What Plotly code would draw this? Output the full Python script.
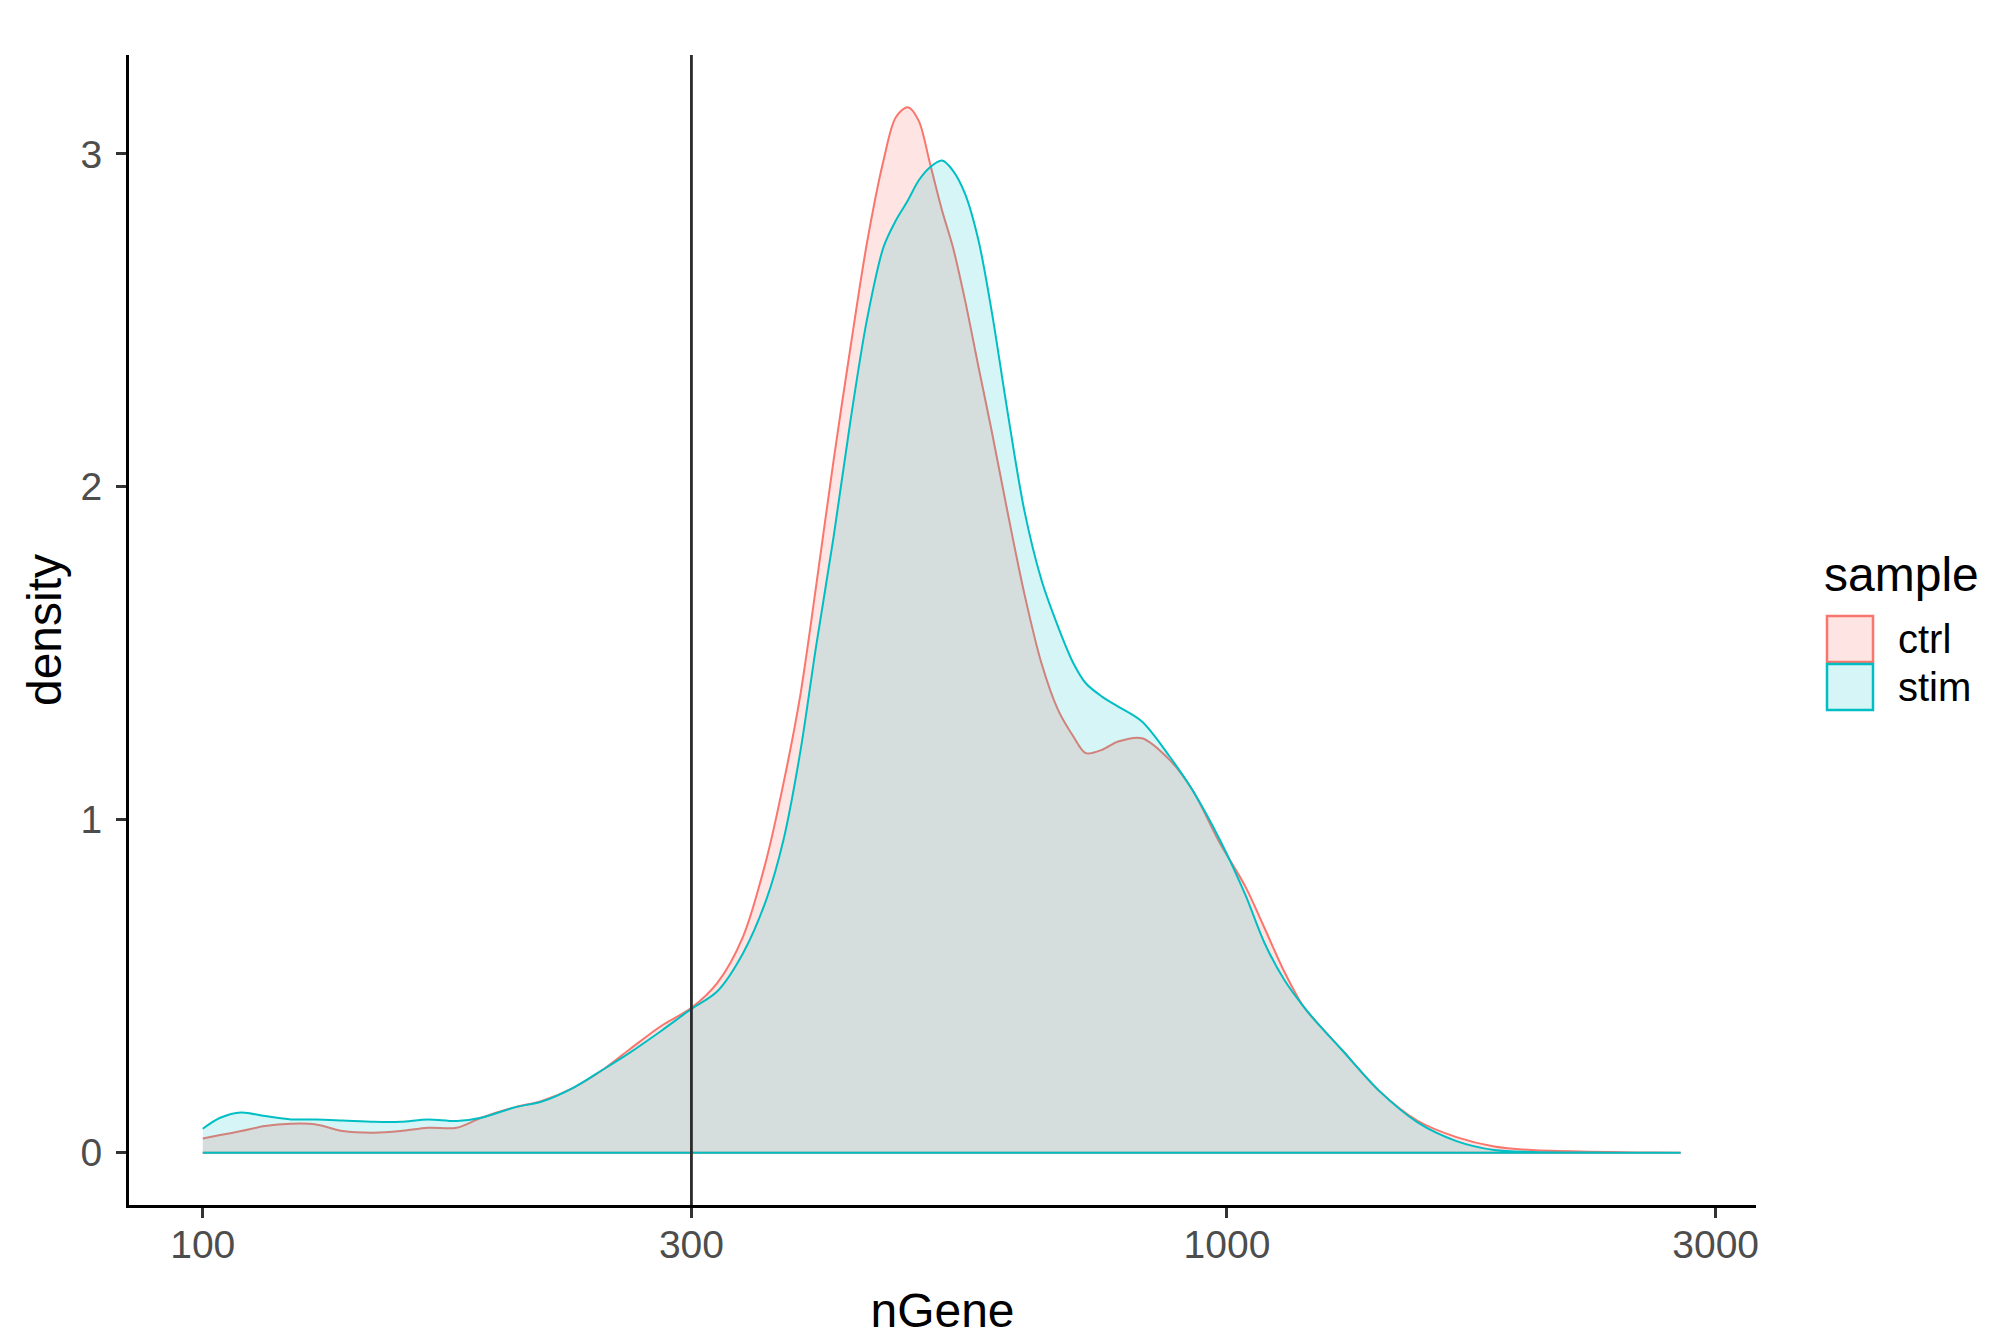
import plotly.graph_objects as go

# ---- data ----
ngene = [100, 104, 109, 115, 122, 129, 137, 147, 156, 166, 177, 187, 202, 214, 230,
         246, 261, 280, 300, 318, 337, 355, 369, 383, 397, 413, 429, 445, 462, 475,
         488, 500, 513, 527, 540, 555, 572, 589, 611, 634, 659, 684, 708, 728, 755,
         783, 826, 879, 925, 984, 1042, 1088, 1137, 1187, 1233, 1294, 1409, 1535,
         1675, 1824, 1986, 2265, 2512, 2773]
ctrl = [0.043, 0.053, 0.065, 0.080, 0.087, 0.085, 0.065, 0.060, 0.065, 0.075, 0.075,
        0.105, 0.137, 0.155, 0.195, 0.250, 0.310, 0.380, 0.435, 0.510, 0.650, 0.880,
        1.11, 1.37, 1.70, 2.08, 2.42, 2.73, 2.98, 3.11, 3.14, 3.10, 2.97, 2.83, 2.72,
        2.56, 2.36, 2.17, 1.92, 1.68, 1.47, 1.33, 1.25, 1.20, 1.21, 1.235, 1.245,
        1.18, 1.09, 0.93, 0.80, 0.675, 0.545, 0.44, 0.38, 0.31, 0.185, 0.096, 0.047,
        0.019, 0.008, 0.003, 0.001, 0.0]
stim = [0.072, 0.105, 0.121, 0.110, 0.100, 0.100, 0.097, 0.093, 0.093, 0.100, 0.095,
        0.105, 0.137, 0.153, 0.195, 0.250, 0.300, 0.365, 0.432, 0.485, 0.600, 0.760,
        0.94, 1.20, 1.52, 1.85, 2.20, 2.50, 2.72, 2.80, 2.86, 2.92, 2.96, 2.98, 2.95,
        2.88, 2.74, 2.53, 2.22, 1.93, 1.72, 1.58, 1.47, 1.41, 1.37, 1.34, 1.295,
        1.19, 1.09, 0.94, 0.775, 0.63, 0.52, 0.44, 0.38, 0.31, 0.185, 0.091, 0.035,
        0.008, 0.002, 0.0005, 0.0, 0.0]
samples = ["ctrl", "stim"]
threshold = 300
x_ticks = [100, 300, 1000, 3000]
y_ticks = [0, 1, 2, 3]

# ---- style ----
W, H = 1992, 1334          # page body adds an 8 px margin
OFF = 8
ML, MT = 129 - OFF, 55 - OFF
MR = W - (1756 - OFF)
MB = H - (1205 - OFF)
line_cols = {"ctrl": "#F8766D", "stim": "#00BFC4"}
fill_cols = {"ctrl": "rgba(248,118,109,0.2)", "stim": "rgba(0,191,196,0.16)"}
FONT = "Liberation Sans, Arial, Helvetica, sans-serif"
TICK_SIZE = 39
TITLE_SIZE = 48

fig = go.Figure()
series = {"ctrl": ctrl, "stim": stim}
for s in samples:
    vals = series[s]
    xs = ngene + ngene[::-1]
    ys = vals + [0.0] * len(vals)
    fig.add_trace(go.Scatter(
        x=xs, y=ys, mode="lines", fill="toself", fillcolor=fill_cols[s],
        line=dict(color=line_cols[s], width=2, shape="spline", smoothing=0.9),
        name=s, showlegend=False, hoverinfo="skip"))

y_lo, y_hi = -0.157, 3.297
fig.add_trace(go.Scatter(
    x=[threshold, threshold], y=[y_lo, y_hi], mode="lines",
    line=dict(color="#2b2b2b", width=2.8), showlegend=False, hoverinfo="skip"))

pw = W - ML - MR
ph = H - MT - MB


def px2paper_x(px):
    return (px - OFF - ML) / pw


def px2paper_y(py):
    return (H - MB - (py - OFF)) / ph


shapes = []
annotations = []
annotations.append(dict(text="sample", x=px2paper_x(1822), y=px2paper_y(574),
                        xref="paper", yref="paper", xanchor="left", yanchor="middle",
                        showarrow=False, font=dict(size=TITLE_SIZE, color="black", family=FONT)))
key_tops = [616, 664]
KEY = 46
for s, top in zip(samples, key_tops):
    shapes.append(dict(type="rect", xref="paper", yref="paper",
                       x0=px2paper_x(1827), x1=px2paper_x(1827 + KEY),
                       y0=px2paper_y(top + KEY), y1=px2paper_y(top),
                       fillcolor=fill_cols[s], line=dict(color=line_cols[s], width=2.5)))
    annotations.append(dict(text=s, x=px2paper_x(1896), y=px2paper_y(top + KEY / 2),
                            xref="paper", yref="paper", xanchor="left", yanchor="middle",
                            showarrow=False, font=dict(size=TICK_SIZE + 1, color="black", family=FONT)))

fig.update_layout(
    width=W, height=H,
    margin=dict(l=ML, r=MR, t=MT, b=MB, pad=0, autoexpand=False),
    paper_bgcolor="white", plot_bgcolor="white",
    font=dict(family=FONT),
    showlegend=False,
    shapes=shapes, annotations=annotations,
)
fig.update_xaxes(
    type="log", range=[1.928, 3.5165], automargin=False,
    tickvals=x_ticks, ticktext=[str(v) for v in x_ticks],
    showgrid=False, zeroline=False,
    showline=True, linecolor="black", linewidth=2.8,
    ticks="outside", ticklen=10, tickwidth=2.5, tickcolor="#333333",
    ticklabelstandoff=-7,
    tickfont=dict(size=TICK_SIZE, color="#4D4D4D", family=FONT),
    title=dict(text="nGene", font=dict(size=TITLE_SIZE, color="black", family=FONT), standoff=29),
)
fig.update_yaxes(
    range=[y_lo, y_hi], tickvals=y_ticks, ticktext=[str(v) for v in y_ticks], automargin=False,
    showgrid=False, zeroline=False,
    showline=True, linecolor="black", linewidth=2.8,
    ticks="outside", ticklen=10, tickwidth=2.5, tickcolor="#333333",
    ticklabelstandoff=6,
    tickfont=dict(size=TICK_SIZE, color="#4D4D4D", family=FONT),
    title=dict(text="density", font=dict(size=TITLE_SIZE, color="black", family=FONT), standoff=4),
)

fig.write_html("out.html")
